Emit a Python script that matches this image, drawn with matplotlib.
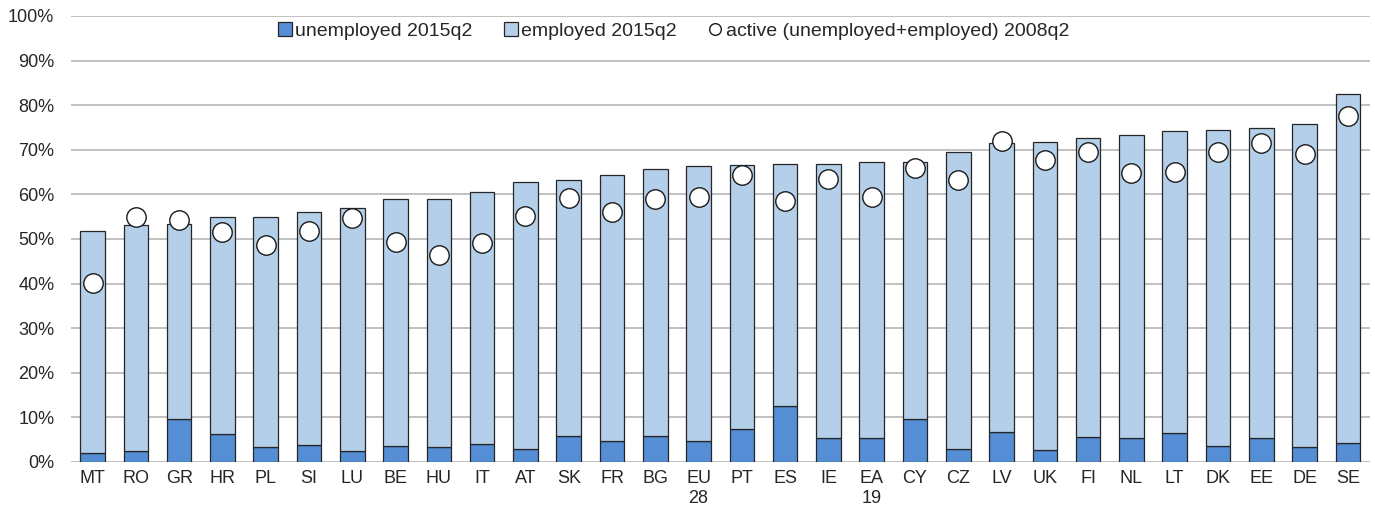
import numpy as np
from matplotlib import pyplot as plt

plt.rcParams['font.family'] = ['Liberation Sans', 'DejaVu Sans']

countries = ['MT', 'RO', 'GR', 'HR', 'PL', 'SI', 'LU', 'BE', 'HU', 'IT', 'AT', 'SK', 'FR', 'BG',
             'EU\n28', 'PT', 'ES', 'IE', 'EA\n19', 'CY', 'CZ', 'LV', 'UK', 'FI', 'NL', 'LT', 'DK',
             'EE', 'DE', 'SE']
# total active 2015q2 (top of bar)
total_2015 = [51.8, 53.1, 53.4, 55.0, 55.0, 56.1, 57.0, 58.9, 59.0, 60.6, 62.8, 63.2, 64.4, 65.6,
              66.4, 66.6, 66.8, 66.8, 67.2, 67.2, 69.4, 71.6, 71.8, 72.6, 73.3, 74.2, 74.5,
              74.8, 75.8, 82.4]
unemployed_2015 = [2.0, 2.4, 9.7, 6.2, 3.3, 3.9, 2.4, 3.5, 3.3, 4.0, 3.0, 5.8, 4.7, 5.8,
                   4.7, 7.3, 12.5, 5.4, 5.4, 9.6, 3.0, 6.7, 2.6, 5.6, 5.3, 6.4, 3.5,
                   5.3, 3.3, 4.2]
active_2008 = [40.1, 55.0, 54.3, 51.6, 48.6, 51.8, 54.6, 49.4, 46.5, 49.1, 55.1, 59.3, 56.0, 59.0,
               59.5, 64.3, 58.5, 63.4, 59.4, 65.9, 63.3, 71.9, 67.8, 69.4, 64.8, 65.1, 69.4,
               71.5, 69.1, 77.6]

employed_2015 = np.array(total_2015) - np.array(unemployed_2015)
x = np.arange(len(countries))

fig = plt.figure(figsize=(13.75, 5.11), dpi=100)
ax = fig.add_axes([0.0516, 0.0959, 0.9444, 0.8728])

w = 0.57
b1 = ax.bar(x, unemployed_2015, w, color='#558ed5', edgecolor='#262626', linewidth=0.9,
            label='unemployed 2015q2', zorder=3)
b2 = ax.bar(x, employed_2015, w, bottom=unemployed_2015, color='#b4cfe9', edgecolor='#262626',
            linewidth=0.9, label='employed 2015q2', zorder=3)
l1, = ax.plot(x, active_2008, 'o', ms=14, mfc='white', mec='#1a1a1a', mew=1.0, ls='none',
              label='active (unemployed+employed) 2008q2', zorder=4)

ax.set_xlim(-0.5, len(countries) - 0.5)
ax.set_ylim(0, 100)
ax.set_yticks(np.arange(0, 101, 10))
ax.set_yticklabels([f'{v}%' for v in range(0, 101, 10)])
ax.set_xticks(x)
ax.set_xticklabels(countries)
ax.yaxis.grid(True, color='#b0b0b0', linewidth=1.1, zorder=0)
ax.set_axisbelow(True)
for s in ax.spines.values():
    s.set_visible(False)
ax.tick_params(length=0, labelsize=13, colors='#262626')
ax.tick_params(axis='y', pad=12)
ax.tick_params(axis='x', pad=6)

leg = ax.legend(handles=[b1, b2, l1], loc='center', bbox_to_anchor=(0.464, 0.966), ncol=3,
                fontsize=14, frameon=True, facecolor='white', edgecolor='none', framealpha=1,
                handlelength=0.7, handleheight=0.7, handletextpad=0.2, columnspacing=1.6,
                borderpad=0.3, markerscale=0.6)
for t in leg.get_texts():
    t.set_color('#262626')

plt.savefig('out.png', dpi=100)
